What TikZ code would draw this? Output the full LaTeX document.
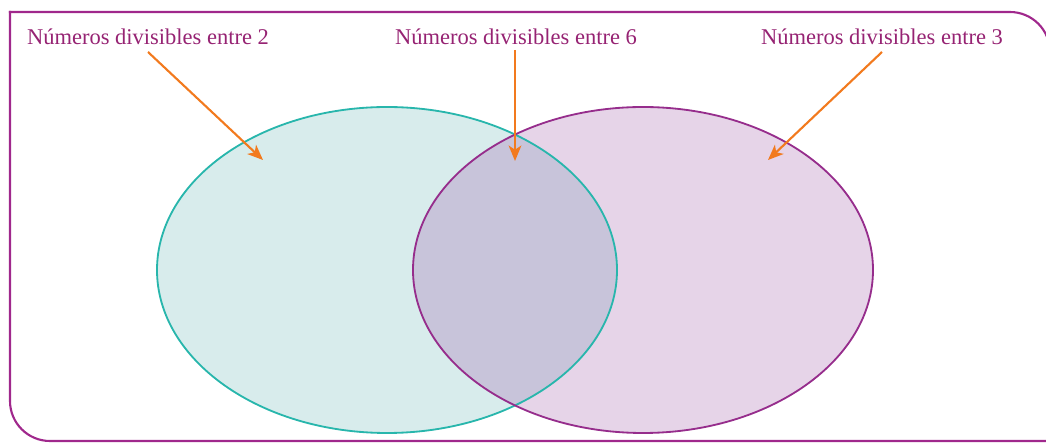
\documentclass[tikz,border=0pt]{standalone}
\usepackage{fontspec}
\setmainfont{Liberation Serif}
\usetikzlibrary{arrows.meta}
\definecolor{FrameClr}{RGB}{160,40,140}
\definecolor{TextClr}{RGB}{150,35,115}
\definecolor{TealClr}{RGB}{40,182,172}
\definecolor{TealFill}{RGB}{216,236,236}
\definecolor{PurpleClr}{RGB}{150,45,140}
\definecolor{PurpleFill}{RGB}{230,212,232}
\definecolor{BothFill}{RGB}{200,196,218}
\definecolor{ArrowClr}{RGB}{242,122,30}

\begin{document}
\begin{tikzpicture}[x=0.025cm,y=-0.025cm]
\tikzset{
  label/.style={text=TextClr,font=\fontsize{16}{18}\selectfont,inner sep=0pt},
  pointer/.style={draw=ArrowClr,line width=1.5pt,-{Stealth[length=11pt,width=9pt,inset=3pt]}},
}
\useasboundingbox (0,0) rectangle (1046,444);

% frame
\draw[FrameClr,line width=1.5pt,line cap=rect,rounded corners=1cm] (10,12) -- (1050,12) -- (1050,480);
\draw[FrameClr,line width=1.5pt,line cap=rect,rounded corners=1cm] (10,12) -- (10,441) -- (1060,441);

% sets
\coordinate (Dos) at (387,270);
\coordinate (Tres) at (643,270);
\fill[PurpleFill] (Tres) ellipse[x radius=230,y radius=163];
\fill[TealFill] (Dos) ellipse[x radius=230,y radius=163];
\begin{scope}
\clip (Dos) ellipse[x radius=230,y radius=163];
\fill[BothFill] (Tres) ellipse[x radius=230,y radius=163];
\end{scope}
\draw[TealClr,line width=1.3pt] (Dos) ellipse[x radius=230,y radius=163];
\draw[PurpleClr,line width=1.3pt] (Tres) ellipse[x radius=230,y radius=163];

% labels
\node[label] (l2) at (148,37) {Números divisibles entre 2};
\node[label] (l6) at (516,37) {Números divisibles entre 6};
\node[label] (l3) at (882,37) {Números divisibles entre 3};

\coordinate (p2) at (263,160);
\coordinate (p6) at (515,161);
\coordinate (p3) at (768,160);

\draw[pointer] (148,52) -- (p2);
\draw[pointer] (515,50) -- (p6);
\draw[pointer] (882,52) -- (p3);

\end{tikzpicture}
\end{document}
